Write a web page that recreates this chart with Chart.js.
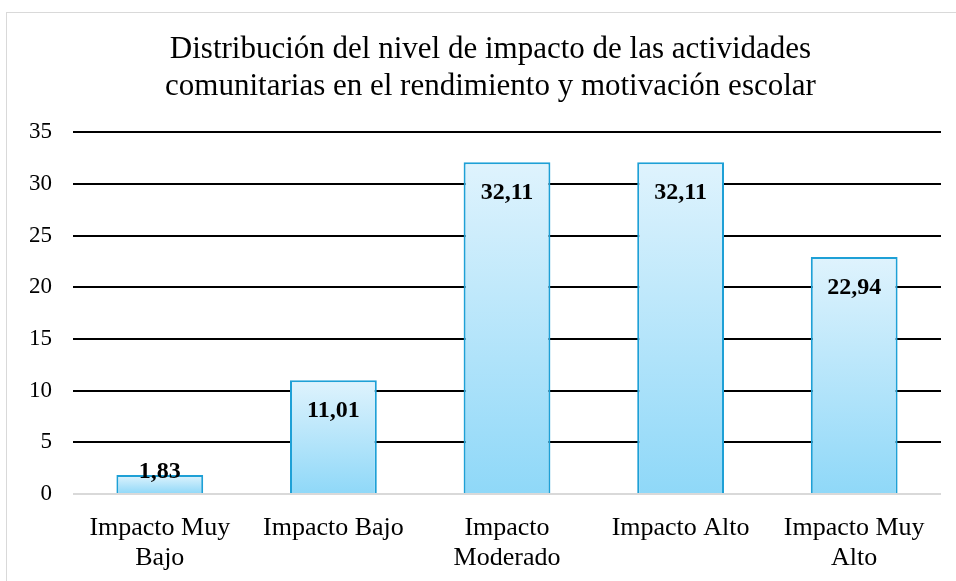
<!DOCTYPE html>
<html>
<head>
<meta charset="utf-8">
<script src="https://cdn.jsdelivr.net/npm/chart.js@4.4.1/dist/chart.umd.min.js"></script>
<style>
  body { margin: 0; background: #fff; overflow: hidden; }
  #frame { position: absolute; left: 6px; top: 12px; width: 960px; height: 580px; border: 1px solid #d9d9d9; box-sizing: border-box; }
  #wrap { position: absolute; left: 6px; top: 12px; width: 950px; height: 569px; }
</style>
</head>
<body>
<div id="frame"></div>
<div id="wrap"><canvas id="impactChart"></canvas></div>
<script>
// categories and percentages
const categories = [
    ['Impacto Muy', 'Bajo'],
    'Impacto Bajo',
    ['Impacto', 'Moderado'],
    'Impacto Alto',
    ['Impacto Muy', 'Alto']
];
const percentages = [1.83, 11.01, 32.11, 32.11, 22.94];
const yTicks = [0, 5, 10, 15, 20, 25, 30, 35];

const titleLines = [
    'Distribución del nivel de impacto de las actividades',
    'comunitarias en el rendimiento y motivación escolar'
];

const serif = "'Liberation Serif', 'Times New Roman', serif";

// light-to-deeper blue fill, per bar from its top down to the axis
function barGradient(context) {
    const chart = context.chart;
    const area = chart.chartArea;
    if (!area || context.raw === undefined) return '#bfe8fb';
    const top = chart.scales.y.getPixelForValue(context.raw);
    const g = chart.ctx.createLinearGradient(0, top, 0, area.bottom);
    g.addColorStop(0, '#dff3fd');
    g.addColorStop(1, '#8fd8f8');
    return g;
}

// value labels near the top of each bar, comma decimals
const valueLabels = {
    id: 'valueLabels',
    afterDatasetsDraw(chart) {
        const ctx = chart.ctx;
        const meta = chart.getDatasetMeta(0);
        ctx.save();
        ctx.font = "bold 24px " + serif;
        ctx.fillStyle = '#000';
        ctx.textAlign = 'center';
        ctx.textBaseline = 'middle';
        meta.data.forEach((bar, i) => {
            const h = bar.base - bar.y;
            const y = h > 50 ? bar.y + 31 : bar.y - 3;
            ctx.fillText(percentages[i].toFixed(2).replace('.', ','), bar.x, y);
        });
        ctx.restore();
    }
};

// nudge the title box so the text sits a bit right of centre
const titleShift = {
    id: 'titleShift',
    afterLayout(chart) {
        if (chart.titleBlock) chart.titleBlock.left += 34;
    }
};

new Chart(document.getElementById('impactChart'), {
    type: 'bar',
    data: {
        labels: categories,
        datasets: [{
            data: percentages,
            backgroundColor: barGradient,
            borderColor: '#1ea0d6',
            borderWidth: 2,
            borderSkipped: 'bottom',
            barPercentage: 0.5,
            categoryPercentage: 1
        }]
    },
    options: {
        responsive: true,
        maintainAspectRatio: false,
        animation: false,
        layout: { padding: { left: 0, right: 15, top: 0, bottom: 0 } },
        plugins: {
            legend: { display: false },
            tooltip: { enabled: false },
            title: {
                display: true,
                text: titleLines,
                color: '#000',
                font: { family: serif, size: 31, weight: 'normal', lineHeight: 1.2 },
                padding: { top: 19, bottom: 27 }
            }
        },
        scales: {
            x: {
                grid: { display: false, drawTicks: false },
                border: { display: false },
                ticks: {
                    color: '#000',
                    font: { family: serif, size: 26, lineHeight: 1.15 },
                    padding: 19,
                    maxRotation: 0
                },
                afterFit(scale) { scale.height = 87; }
            },
            y: {
                min: 0,
                max: 35,
                afterBuildTicks(scale) { scale.ticks = yTicks.map(v => ({ value: v })); },
                grid: {
                    color: c => c.tick && c.tick.value === 0 ? '#d9d9d9' : '#000',
                    lineWidth: 2,
                    drawTicks: false
                },
                border: { display: false },
                ticks: {
                    color: '#000',
                    font: { family: serif, size: 23 },
                    padding: 21
                },
                afterFit(scale) { scale.width = 67; }
            }
        }
    },
    plugins: [valueLabels, titleShift]
});
</script>
</body>
</html>
